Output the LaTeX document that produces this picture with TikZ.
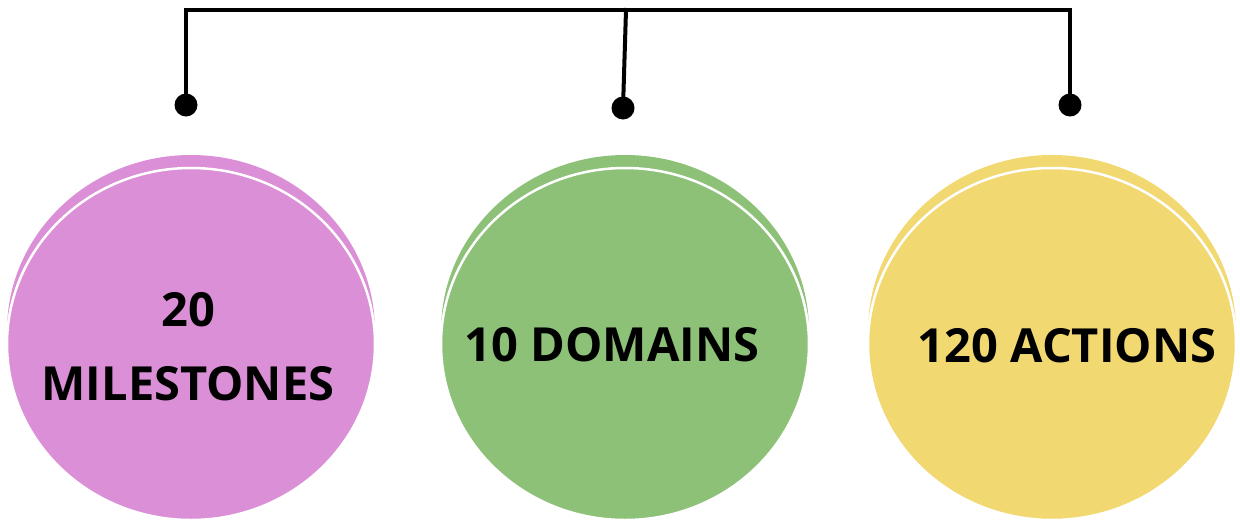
\documentclass[tikz,border=0pt]{standalone}
\usepackage{fontspec}
\setmainfont{Open Sans}
\definecolor{pinkfill}{HTML}{DB8FD6}
\definecolor{greenfill}{HTML}{8DC178}
\definecolor{yellowfill}{HTML}{F2D870}
\usetikzlibrary{shapes.geometric}
\tikzset{
  bubble/.style={ellipse, minimum width=368pt, minimum height=352pt, inner sep=0pt,
    draw=white, line width=2.5pt},
  halo/.style={ellipse, minimum width=368pt, minimum height=352pt, inner sep=0pt},
  label text/.style={font=\fontsize{47}{74}\selectfont\bfseries, align=center, text=black},
  bracket/.style={line width=4pt, line cap=rect},
  pin dot/.style={circle, fill=black, minimum size=23pt, inner sep=0pt}
}
\begin{document}
\begin{tikzpicture}[x=1pt,y=-1pt]
  \useasboundingbox (0,0) rectangle (1240,523);
  % crescent halos behind each bubble
  \node[halo, fill=pinkfill]   (h1) at (191,331) {};
  \node[halo, fill=greenfill]  (h2) at (625,331) {};
  \node[halo, fill=yellowfill] (h3) at (1052,331) {};
  % bubbles
  \node[bubble, fill=pinkfill]   (b1) at (191,344) {};
  \node[bubble, fill=greenfill]  (b2) at (625,344) {};
  \node[bubble, fill=yellowfill] (b3) at (1052,344) {};
  % labels
  \node[label text] (t1) at (188,347) {20\\MILESTONES};
  \node[label text] (t2) at (612,345) {10 DOMAINS};
  \node[label text] (t3) at (1067,346) {120 ACTIONS};
  % bracket with pins
  \node[pin dot] (d1) at (186,105) {};
  \node[pin dot] (d2) at (623,108) {};
  \node[pin dot] (d3) at (1070,105) {};
  \coordinate (c1) at (186,10);
  \coordinate (c2) at (626,10);
  \coordinate (c3) at (1070,10);
  \draw[bracket] (d1.center) -- (c1) -- (c3) -- (d3.center);
  \draw[bracket] (c2) -- (d2.center);
\end{tikzpicture}
\end{document}
